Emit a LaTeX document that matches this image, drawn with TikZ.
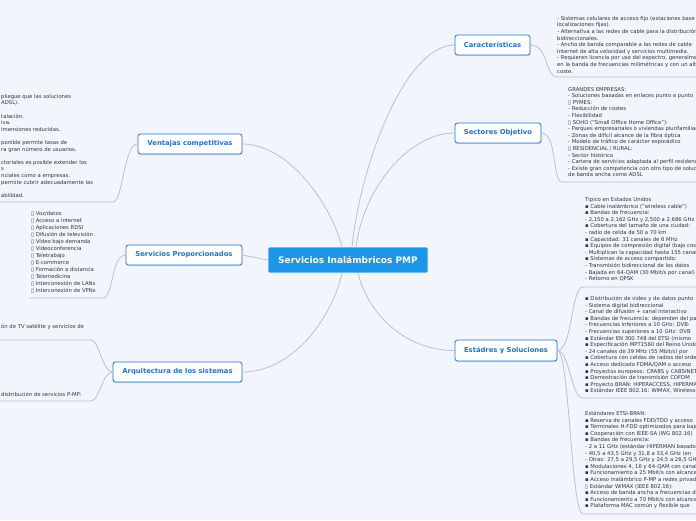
\documentclass[tikz,border=0pt]{standalone}
\usepackage{fontspec}
\setmainfont{DejaVu Sans}
\usepackage{tikz}
\usetikzlibrary{positioning,shadows}
\definecolor{mapbg}{RGB}{243,245,252}
\definecolor{maplink}{RGB}{190,192,202}
\definecolor{mainblue}{RGB}{27,150,232}
\definecolor{topicblue}{RGB}{31,115,216}
\definecolor{notegray}{RGB}{50,50,58}

\begin{document}
\begin{tikzpicture}[x=1pt,y=-1pt,
    central/.style={rectangle, rounded corners=2pt, fill=mainblue, draw=white, line width=0.6pt, text=white, font=\fontsize{9}{10}\selectfont\bfseries, minimum width=160pt, minimum height=26pt, inner sep=0pt},
    topic/.style={rectangle, rounded corners=2.5pt, fill=white, draw=topicblue, line width=0.8pt, text=topicblue, font=\fontsize{6.8}{8}\selectfont\bfseries, minimum height=20pt, inner sep=0pt, drop shadow={shadow xshift=0.4pt, shadow yshift=-1pt, opacity=0.25, fill=black!60}},
    note/.style={anchor=north west, align=left, inner sep=0pt, text=notegray, font=\fontsize{5.3}{6.6}\selectfont},
    link/.style={draw=maplink, line width=0.8pt}
]
    \fill[mapbg, use as bounding box] (0,0) rectangle (696,520);
    \clip (0,0) rectangle (696,520);

    % main topics
    \node[central] (root) at (348,260) {Servicios Inalámbricos PMP};
    \node[topic, minimum width=75pt] (carac) at (492.5,45) {Características};
    \node[topic, minimum width=86pt] (sector) at (498,133) {Sectores Objetivo};
    \node[topic, minimum width=102pt, minimum height=21pt] (estand) at (506,350.5) {Estádres y Soluciones};
    \node[topic, minimum width=104pt] (ventaja) at (190,144) {Ventajas competitivas};
    \node[topic, minimum width=116pt] (servic) at (184,255) {Servicios Proporcionados};
    \node[topic, minimum width=129pt] (arquit) at (177.5,372) {Arquitectura de los sistemas};

    \draw[link] ([xshift=-6pt]root.north) .. controls +(-12,-45) and +(45,0) .. (ventaja.east);
    \draw[link] ([xshift=4pt]root.north) .. controls +(8,-80) and +(-50,0) .. (carac.west);
    \draw[link] ([xshift=8pt]root.north) .. controls +(8,-60) and +(-45,0) .. (sector.west);
    \draw[link] ([xshift=10pt]root.south) .. controls +(10,40) and +(-50,0) .. (estand.west);
    \draw[link] ([xshift=-6pt]root.south) .. controls +(-10,45) and +(50,0) .. (arquit.east);
    \draw[link] (root.west) -- (servic.east);

    % right notes
    \node[note] (caracN) at (557,16) {- Sistemas celulares de acceso fijo (estaciones base\\
localizaciones fijas).\\
- Alternativa a las redes de cable para la distribución\\
bidireccionales.\\
- Ancho de banda comparable a las redes de cable\\
Internet de alta velocidad y servicios multimedia.\\
- Requieren licencia por uso del espectro, generalmente\\
en la banda de frecuencias milimétricas y con un alto\\
coste.};
    \coordinate (caracA) at (557,77);
    \coordinate (caracB) at (700,77);
    \draw[link] (carac.east) .. controls +(18,0) and +(-12,0) .. (caracA) -- (caracB);

    \node[note] (sectorN) at (568,87) {GRANDES EMPRESAS:\\
- Soluciones basadas en enlaces punto a punto\\
▯ PYMES:\\
- Reducción de costes\\
- Flexibilidad\\
▯ SOHO ("Small Office Home Office"):\\
- Parques empresariales o viviendas plurifamiliares\\
- Zonas de difícil alcance de la fibra óptica\\
- Modelo de tráfico de carácter esporádico\\
▯ RESIDENCIAL / RURAL:\\
- Sector histórico\\
- Cartera de servicios adaptada al perfil residencial\\
- Existe gran competencia con otro tipo de soluciones\\
de banda ancha como ADSL};
    \coordinate (sectorA) at (562,182);
    \coordinate (sectorB) at (700,182);
    \draw[link] (sector.east) .. controls +(16,0) and +(-10,0) .. (sectorA) -- (sectorB);

    \node[note] (tipicoN) at (585,197) {Típico en Estados Unidos\\
▪ Cable inalámbrico ("wireless cable")\\
▪ Bandas de frecuencia:\\
- 2,150 a 2,162 GHz y 2,500 a 2,686 GHz\\
▪ Cobertura del tamaño de una ciudad:\\
- radio de celda de 50 a 70 km\\
▪ Capacidad: 31 canales de 6 MHz\\
▪ Equipos de compresión digital (bajo coste)\\
- Multiplican la capacidad hasta 155 canales\\
▪ Sistemas de acceso compartido:\\
- Transmisión bidireccional de los datos\\
- Bajada en 64-QAM (30 Mbit/s por canal)\\
- Retorno en QPSK};
    \node[note] (difusN) at (585,296) {▪ Distribución de video y de datos punto\\
- Sistema digital bidireccional\\
- Canal de difusión + canal interactivo\\
▪ Bandas de frecuencia: dependen del país\\
- Frecuencias inferiores a 10 GHz: DVB-\\
- Frecuencias superiores a 10 GHz: DVB\\
▪ Estándar EN 300 748 del ETSI (mismo\\
▪ Especificación MPT1560 del Reino Unido\\
- 24 canales de 39 MHz (55 Mbit/s) por\\
▪ Cobertura con celdas de radios del orden\\
▪ Acceso dedicado FDMA/QAM o acceso\\
▪ Proyectos europeos: CRABS y CABSINET\\
▪ Demostración de transmisión COFDM\\
▪ Proyecto BRAN: HIPERACCESS, HIPERMAN\\
▪ Estándar IEEE 802.16: WiMAX, Wireless};
    \node[note] (etsiN) at (585,411) {Estándares ETSI-BRAN:\\
▪ Reserva de canales FDD/TDD y acceso\\
▪ Terminales H-FDD optimizados para bajo\\
▪ Cooperación con IEEE-SA (WG 802.16)\\
▪ Bandas de frecuencia:\\
- 2 a 11 GHz (estándar HIPERMAN basado\\
- 40,5 a 43,5 GHz y 31,8 a 33,4 GHz (en\\
- Otras: 27,5 a 29,5 GHz y 24,5 a 26,5 GHz\\
▪ Modulaciones 4, 16 y 64-QAM con canales\\
▪ Funcionamiento a 25 Mbit/s con alcance\\
▪ Acceso inalámbrico P-MP a redes privadas\\
▯ Estándar WiMAX (IEEE 802.16):\\
▪ Acceso de banda ancha a frecuencias de\\
▪ Funcionamiento a 70 Mbit/s con alcance\\
▪ Plataforma MAC común y flexible que};
    \coordinate (tipicoA) at (583,287);
    \coordinate (tipicoB) at (700,287);
    \coordinate (difusA) at (583,398);
    \coordinate (difusB) at (700,398);
    \coordinate (etsiA) at (583,514);
    \coordinate (etsiB) at (700,514);
    \draw[link] (estand.east) .. controls +(15,0) and +(-12,0) .. (tipicoA) -- (tipicoB);
    \draw[link] (estand.east) .. controls +(12,0) and +(-12,0) .. (difusA) -- (difusB);
    \draw[link] (estand.east) .. controls +(12,0) and +(-12,0) .. (etsiA) -- (etsiB);

    % left notes
    \node[note] (ventajaN) at (1,94) {pliegue que las soluciones\\
ADSL).\\[6.6pt]
talación.\\
iva.\\
imensiones reducidas.\\[6.6pt]
ponible permite tasas de\\
ra gran número de usuarios.\\[6.6pt]
ctoriales es posible extender los\\
s\\
nciales como a empresas.\\
permite cubrir adecuadamente las\\[6.6pt]
abilidad.};
    \coordinate (ventajaA) at (113,202);
    \coordinate (ventajaB) at (-2,202);
    \draw[link] (ventaja.west) .. controls +(-14,0) and +(10,0) .. (ventajaA) -- (ventajaB);

    \node[note, font=\fontsize{5.3}{7}\selectfont] (servicN) at (31,211) {▯ Voz/datos\\
▯ Acceso a internet\\
▯ Aplicaciones RDSI\\
▯ Difusión de televisión\\
▯ Vídeo bajo demanda\\
▯ Videoconferencia\\
▯ Teletrabajo\\
▯ E-commerce\\
▯ Formación a distancia\\
▯ Telemedicina\\
▯ Interconexión de LANs\\
▯ Interconexión de VPNs};
    \coordinate (servicA) at (103,298);
    \coordinate (servicB) at (29,298);
    \draw[link] (servic.west) .. controls +(-14,0) and +(10,0) .. (servicA) -- (servicB);

    \node[note] (arqN1) at (1,324) {ón de TV satélite y servicios de};
    \node[note] (arqN2) at (1,392) {distribución de servicios P-MP:};
    \coordinate (arqA) at (91,340);
    \coordinate (arqB) at (-2,340);
    \coordinate (arqC) at (91,401);
    \coordinate (arqD) at (-2,401);
    \draw[link] (arquit.west) .. controls +(-10,0) and +(8,0) .. (arqA) -- (arqB);
    \draw[link] (arquit.west) .. controls +(-10,0) and +(8,0) .. (arqC) -- (arqD);
\end{tikzpicture}
\end{document}
